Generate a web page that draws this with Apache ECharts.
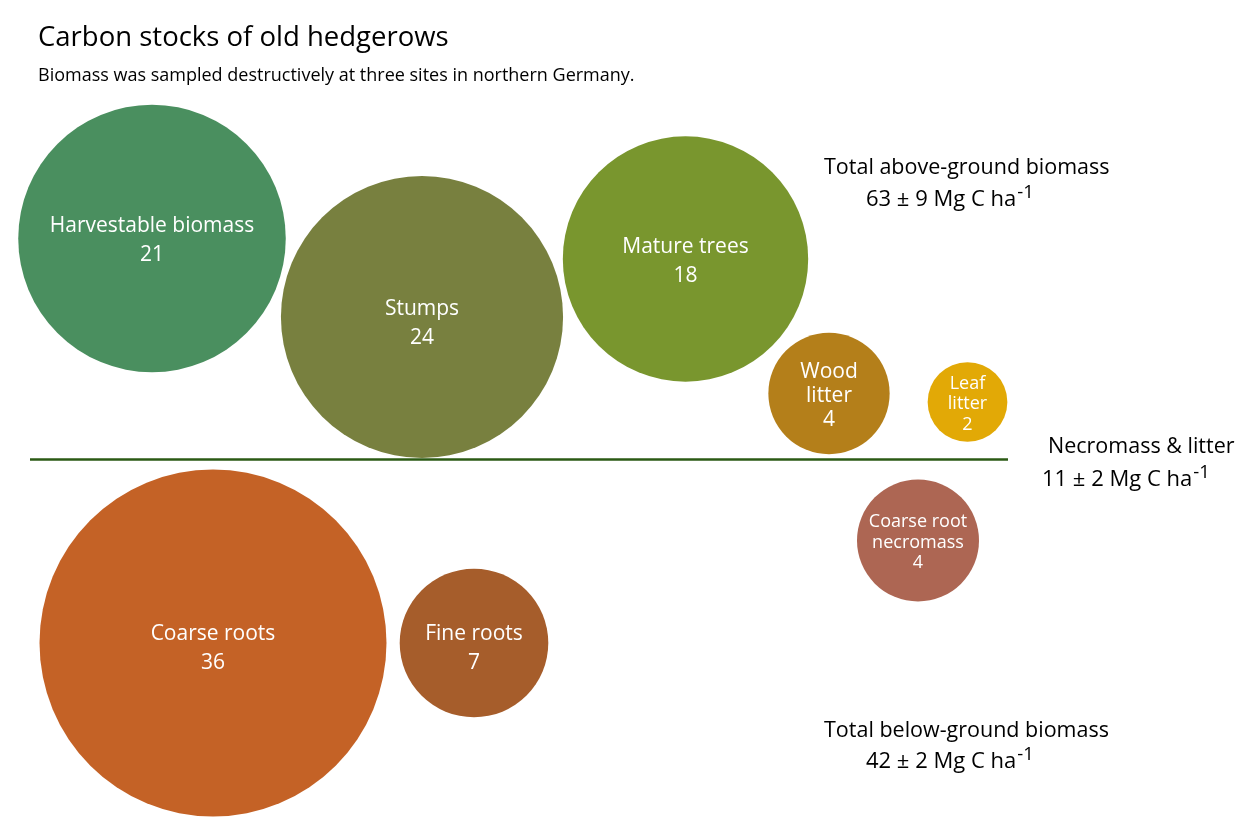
<!DOCTYPE html>
<html>
<head>
<meta charset="utf-8">
<title>Carbon stocks of old hedgerows</title>
<script src="https://cdn.jsdelivr.net/npm/echarts@6/dist/echarts.min.js"></script>
<style>
  html, body { margin: 0; padding: 0; background: #fff; }
  #main { width: 1250px; height: 828px; }
</style>
</head>
<body>
<div id="main"></div>
<script>
// carbon pools (Mg C / ha)
const pools = ['Harvestable biomass', 'Stumps', 'Mature trees', 'Wood\nlitter', 'Leaf\nlitter',
  'Coarse roots', 'Fine roots', 'Coarse root\nnecromass'];
const stocks = [21.4, 23.8, 18.0, 4.4, 1.9, 36.0, 6.6, 4.45];
// bubble layout (x right, y down)
const posX = [152, 422, 685.5, 829, 967.5, 213, 474, 918];
const posY = [238.5, 317, 259, 393.5, 402, 643, 643, 540.5];
const colors = ['#4a8f5f', '#78803f', '#79962e', '#b47f1a', '#e2a906', '#c46226', '#a65d2b', '#ad6653'];

const groundY = 459;
const groundX = [30, 1008];

const font = '"Open Sans", "Noto Sans", sans-serif';
const chart = echarts.init(document.getElementById('main'));

// bubble area ~ stock
const symbolScale = 347 / Math.sqrt(36);

// labels sit a little below centre in the original, more so on some bubbles
const labelDrop = { 'Stumps': 6.5, 'Coarse roots': 6, 'Fine roots': 6 };

const seriesData = pools.map(function (name, i) {
  const small = name === 'Leaf\nlitter' || name === 'Coarse root\nnecromass';
  return {
    name: name,
    value: [posX[i], posY[i], stocks[i]],
    itemStyle: { color: colors[i], opacity: 1 },
    label: {
      fontSize: small ? 18 : 21,
      lineHeight: small ? 20.5 : (name === 'Wood\nlitter' ? 24 : 29),
      offset: [0, labelDrop[name] || 2.2]
    }
  };
});

function supText(main) {
  return '{t|' + main + '}{s|-1}';
}
const richSup = {
  t: { fontSize: 22, fontFamily: font, color: '#000', lineHeight: 28 },
  s: { fontSize: 18.5, fontFamily: font, color: '#000', lineHeight: 28, padding: [0, 0, 14, 1] }
};
const headStyle = { fontFamily: font, fontSize: 21.5, fill: '#000' };

const option = {
  backgroundColor: '#fff',
  animation: false,
  title: {
    text: 'Carbon stocks of old hedgerows',
    subtext: 'Biomass was sampled destructively at three sites in northern Germany.',
    left: 33,
    top: 19,
    itemGap: 15,
    textStyle: { fontFamily: font, fontSize: 27.5, fontWeight: 'normal', color: '#000' },
    subtextStyle: { fontFamily: font, fontSize: 18, color: '#000' }
  },
  grid: { left: 0, right: 0, top: 0, bottom: 0 },
  xAxis: { type: 'value', min: 0, max: 1250, show: false },
  yAxis: { type: 'value', min: 0, max: 828, inverse: true, show: false },
  series: [{
    type: 'scatter',
    symbol: 'circle',
    symbolSize: function (v) { return symbolScale * Math.sqrt(v[2]); },
    data: seriesData,
    label: {
      show: true,
      position: 'inside',
      color: '#fff',
      fontFamily: font,
      formatter: function (p) { return p.name + '\n' + Math.round(p.value[2]); }
    },
    emphasis: { disabled: true },
    markLine: {
      silent: true,
      symbol: 'none',
      label: { show: false },
      lineStyle: { color: '#2b5a14', width: 2.5, type: 'solid' },
      data: [[{ coord: [groundX[0], groundY] }, { coord: [groundX[1], groundY] }]]
    }
  }],
  graphic: [
    { type: 'text', left: 824, top: 157, style: Object.assign({ text: 'Total above-ground biomass' }, headStyle) },
    { type: 'text', left: 866, top: 183, style: { text: supText('63 ± 9 Mg C ha'), rich: richSup } },
    { type: 'text', left: 1048, top: 436, style: Object.assign({ text: 'Necromass & litter' }, headStyle) },
    { type: 'text', left: 1042, top: 463, style: { text: supText('11 ± 2 Mg C ha'), rich: richSup } },
    { type: 'text', left: 824, top: 720, style: Object.assign({ text: 'Total below-ground biomass' }, headStyle) },
    { type: 'text', left: 866, top: 745, style: { text: supText('42 ± 2 Mg C ha'), rich: richSup } }
  ]
};

chart.setOption(option);
</script>
</body>
</html>
